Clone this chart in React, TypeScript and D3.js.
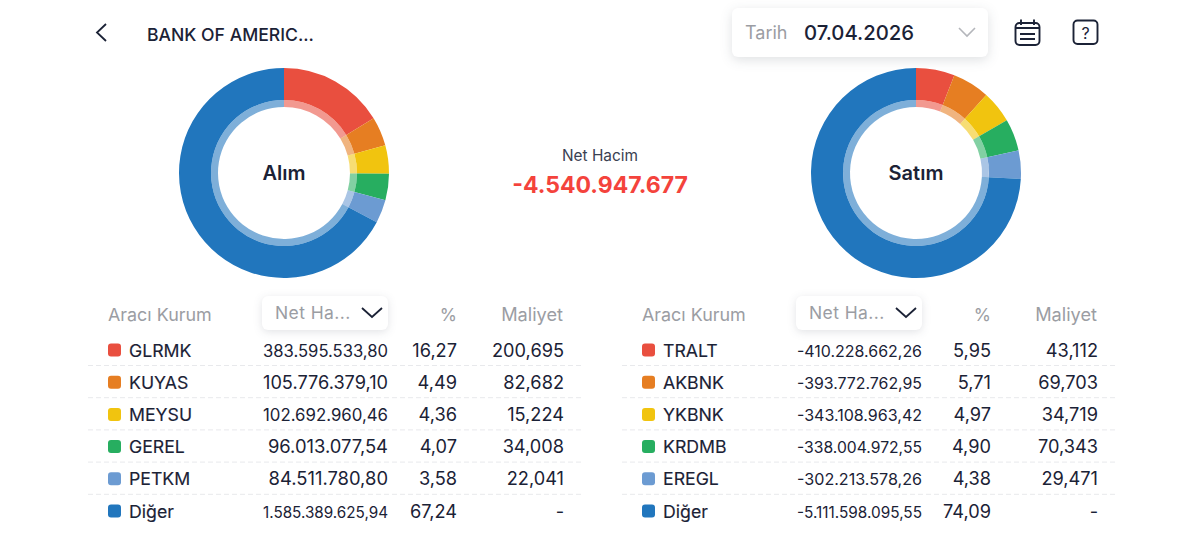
import * as d3 from 'd3'

const buyBrokers = ['GLRMK', 'KUYAS', 'MEYSU', 'GEREL', 'PETKM', 'Diğer']
const buyVolumes = ['383.595.533,80', '105.776.379,10', '102.692.960,46', '96.013.077,54', '84.511.780,80', '1.585.389.625,94']
const buyPercents = [16.27, 4.49, 4.36, 4.07, 3.58, 67.24]
const buyCosts = ['200,695', '82,682', '15,224', '34,008', '22,041', '-']

const sellBrokers = ['TRALT', 'AKBNK', 'YKBNK', 'KRDMB', 'EREGL', 'Diğer']
const sellVolumes = ['-410.228.662,26', '-393.772.762,95', '-343.108.963,42', '-338.004.972,55', '-302.213.578,26', '-5.111.598.095,55']
const sellPercents = [5.95, 5.71, 4.97, 4.9, 4.38, 74.09]
const sellCosts = ['43,112', '69,703', '34,719', '70,343', '29,471', '-']

const sliceColors = ['#E94F3F', '#E67E22', '#F1C40F', '#27AE60', '#6C9BD2', '#2176BD']
const rowKeys = [0, 1, 2, 3, 4, 5]

const font = 'Inter, sans-serif'
const ink = '#1B2236'
const gray = '#9B9DA3'

const rowY = d3.scalePoint<number>().domain(rowKeys).range([350, 511])
const pie = d3.pie<number>().sort(null).value(d => d)
const outerArc = d3.arc<d3.PieArcDatum<number>>().innerRadius(73).outerRadius(105)
const innerArc = d3.arc<d3.PieArcDatum<number>>().innerRadius(66).outerRadius(73)

const fmtPct = (v: number) => v.toFixed(2).replace('.', ',')

// numbers shrink to fit the column, as the app does
const ctx = document.createElement('canvas').getContext('2d')!
const fitSize = (text: string, maxSize: number, maxWidth: number) => {
  ctx.font = `${maxSize}px Inter`
  const w = ctx.measureText(text).width
  return w > maxWidth ? (maxSize * maxWidth) / w : maxSize
}

function Donut({ cx, values, label }: { cx: number; values: number[]; label: string }) {
  const arcs = pie(values)
  return (
    <g transform={`translate(${cx},173)`}>
      {arcs.map((a, i) => (
        <path key={i} d={outerArc(a) || ''} fill={sliceColors[i]} />
      ))}
      {arcs.map((a, i) => (
        <path key={i} d={innerArc(a) || ''} fill={sliceColors[i]} opacity={0.58} />
      ))}
      <text y={7} textAnchor="middle" fontSize={20} fontWeight={600} fill={ink}>{label}</text>
    </g>
  )
}

function BrokerTable({ x, brokers, volumes, percents, costs }: {
  x: number
  brokers: string[]
  volumes: string[]
  percents: number[]
  costs: string[]
}) {
  return (
    <g transform={`translate(${x},0)`}>
      <text x={20} y={321} fontSize={17.9} fill={gray}>Aracı Kurum</text>
      <rect x={174} y={296} width={126} height={34} rx={6} fill="#fff" style={{ filter: 'drop-shadow(0 2px 4px rgba(30,40,60,0.13))' }} />
      <text x={187} y={319} fontSize={17.5} fill={gray} letterSpacing={0.4}>Net Ha...</text>
      <path d="M274,308 L284,317 L294,308" fill="none" stroke={ink} strokeWidth={1.8} />
      <text x={369} y={321} textAnchor="end" fontSize={17.5} fill={gray}>%</text>
      <text x={475} y={321} textAnchor="end" fontSize={18.2} fill={gray}>Maliyet</text>
      {rowKeys.map(i => {
        const y = rowY(i)!
        return (
          <g key={i}>
            <rect x={20} y={y - 6.5} width={13} height={13} rx={3} fill={sliceColors[i]} />
            <text x={41} y={y + 6.5} fontSize={17.7} fill={ink} stroke={ink} strokeWidth={0.15}>{brokers[i]}</text>
            <text x={300} y={y + 6.5} textAnchor="end" fontSize={fitSize(volumes[i], 18.4, 125)} fill={ink}>{volumes[i]}</text>
            <text x={369} y={y + 6.5} textAnchor="end" fontSize={18.2} fill={ink}>{fmtPct(percents[i])}</text>
            <text x={476} y={y + 6.5} textAnchor="end" fontSize={18.2} fill={ink}>{costs[i]}</text>
            {i < 5 && <line x1={0} x2={494} y1={y + 15.5} y2={y + 15.5} stroke="#E8E9EC" strokeDasharray="5 3" />}
          </g>
        )
      })}
    </g>
  )
}

export default function App() {
  return (
    <svg width={1200} height={554} style={{ position: 'absolute', left: 0, top: 0, background: '#fff', fontFamily: font }}>
      <path d="M106,24 L97,32.5 L106,41" fill="none" stroke={ink} strokeWidth={1.8} />
      <text x={147} y={40.5} fontSize={17.6} fontWeight={500} fill={ink}>BANK OF AMERIC...</text>

      <rect x={732} y={8} width={256} height={49} rx={6} fill="#fff" style={{ filter: 'drop-shadow(0 3px 6px rgba(30,40,60,0.14))' }} />
      <text x={745} y={39} fontSize={18} fill={gray}>Tarih</text>
      <text x={804} y={39.5} fontSize={20.3} fontWeight={500} fill={ink}>07.04.2026</text>
      <path d="M959,28 L967,36 L975,28" fill="none" stroke="#B4B6BB" strokeWidth={1.6} />

      <g fill="none" stroke={ink} strokeWidth={1.9}>
        <rect x={1015.5} y={23} width={24} height={22} rx={4} />
        <path d="M1021,19.5 V25 M1034,19.5 V25 M1015.5,28 H1039.5 M1020,34 H1035 M1020,39 H1035" />
        <rect x={1073.5} y={20.5} width={24} height={23.5} rx={4} />
      </g>
      <text x={1085.5} y={38.5} textAnchor="middle" fontSize={16} fill={ink}>?</text>

      <Donut cx={284} values={buyPercents} label="Alım" />
      <Donut cx={916} values={sellPercents} label="Satım" />

      <text x={600} y={161} textAnchor="middle" fontSize={15.4} fill="#3A4152">Net Hacim</text>
      <text x={600} y={192.5} textAnchor="middle" fontSize={23} fontWeight={700} fill="#F4433C">-4.540.947.677</text>

      <BrokerTable x={88} brokers={buyBrokers} volumes={buyVolumes} percents={buyPercents} costs={buyCosts} />
      <BrokerTable x={622} brokers={sellBrokers} volumes={sellVolumes} percents={sellPercents} costs={sellCosts} />
    </svg>
  )
}
